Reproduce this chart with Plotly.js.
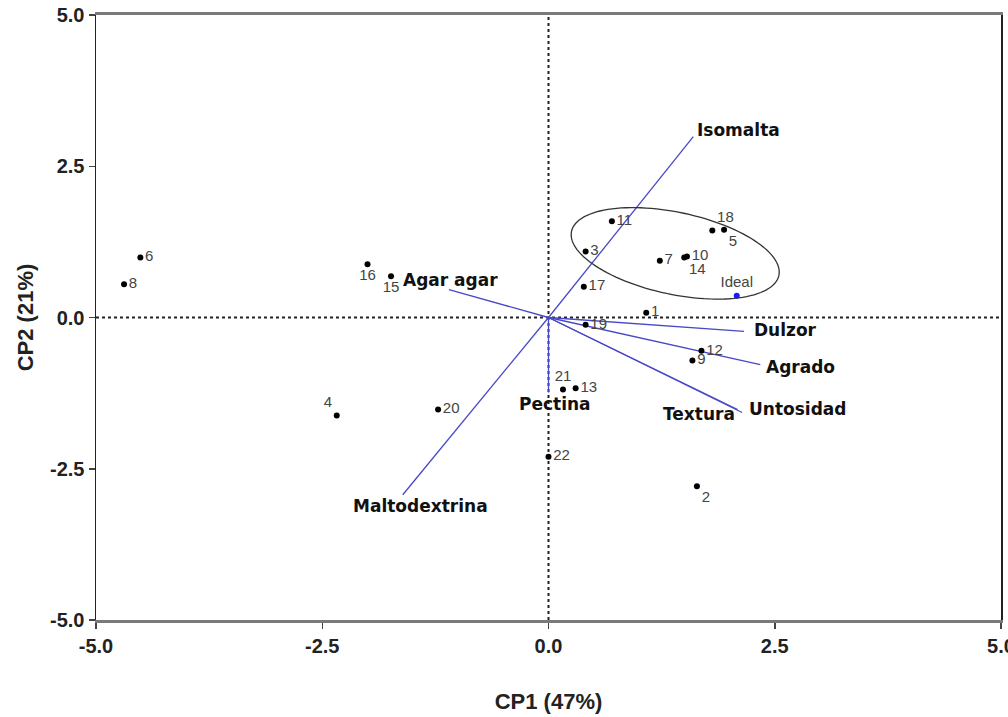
<!DOCTYPE html>
<html>
<head>
<meta charset="utf-8">
<script src="https://cdn.plot.ly/plotly-3.0.1.min.js"></script>
<style>html,body{margin:0;padding:0;background:#fff;overflow:hidden;}#chart{width:1008px;height:717px;}</style>
</head>
<body>
<div id="chart"></div>
<script>
// Sample scores (CP1, CP2)
const sampleLabels = ['1','2','3','4','5','6','7','8','9','10','11','12','13','14','15','16','17','18','19','20','21','22'];
const sampleCP1 = [1.08, 1.64, 0.41, -2.34, 1.94, -4.51, 1.23, -4.69, 1.59, 1.53, 0.70, 1.69, 0.30, 1.50, -1.74, -2.00, 0.39, 1.81, 0.41, -1.22, 0.16, 0.00];
const sampleCP2 = [0.08, -2.79, 1.09, -1.62, 1.45, 0.99, 0.94, 0.55, -0.71, 1.01, 1.59, -0.55, -1.17, 0.99, 0.68, 0.88, 0.51, 1.44, -0.12, -1.52, -1.19, -2.30];
const sampleTextPos = ['middle right','bottom right','middle right','top left','bottom right','middle right','middle right','middle right','middle right','middle right','middle right','middle right','middle right','bottom right','bottom center','bottom center','middle right','top right','middle right','middle right','top center','middle right'];

// Ideal product
const idealLabel = 'Ideal';
const idealCP1 = 2.08;
const idealCP2 = 0.36;

// Variable loadings (vectors)
const varNames = ['Isomalta','Agar agar','Dulzor','Agrado','Untosidad','Textura','Pectina','Maltodextrina'];
const varCP1 = [1.60, -1.10, 2.16, 2.34, 2.14, 2.09, 0.00, -1.61];
const varCP2 = [2.99, 0.46, -0.23, -0.78, -1.57, -1.52, -1.24, -2.93];
const varLabelStyle = [
  {xanchor:'left', xshift:2, yshift:7},
  {xanchor:'center', xshift:2, yshift:10},
  {xanchor:'left', xshift:8, yshift:1},
  {xanchor:'left', xshift:4, yshift:-2},
  {xanchor:'left', xshift:5, yshift:3},
  {xanchor:'right', xshift:-1, yshift:-5},
  {xanchor:'center', xshift:6, yshift:-11},
  {xanchor:'center', xshift:18, yshift:-11}
];

// Axis ticks and titles
const tickVals = [-5, -2.5, 0, 2.5, 5];
const tickText = ['-5.0','-2.5','0.0','2.5','5.0'];
const xTitle = 'CP1 (47%)';
const yTitle = 'CP2 (21%)';

// Grouping ellipse parameters (center in data units, semi-axes in px, tilt in degrees)
const ellipse = {cx: 1.40, cy: 1.06, a: 106, b: 41, tilt: 12};

const W = 1008, H = 717;
const margin = {l: 96, r: 7, t: 15, b: 97};
const pxX = (W - margin.l - margin.r) / 10;
const pxY = (H - margin.t - margin.b) / 10;

function ellipsePath(e) {
  const th = e.tilt * Math.PI / 180;
  let d = '';
  const n = 120;
  for (let i = 0; i <= n; i++) {
    const t = 2 * Math.PI * i / n;
    const u = e.a * Math.cos(t), v = e.b * Math.sin(t);
    const sx = u * Math.cos(th) - v * Math.sin(th);
    const sy = u * Math.sin(th) + v * Math.cos(th);
    const x = e.cx + sx / pxX, y = e.cy - sy / pxY;
    d += (i === 0 ? 'M ' : ' L ') + x.toFixed(4) + ',' + y.toFixed(4);
  }
  return d + ' Z';
}

const vecColor = '#4848c8';
const traces = [];
varNames.forEach((n, i) => {
  traces.push({
    x: [0, varCP1[i]], y: [0, varCP2[i]], mode: 'lines', type: 'scatter',
    line: {color: vecColor, width: 1.3}, hoverinfo: 'skip', showlegend: false
  });
});
traces.push({
  x: sampleCP1, y: sampleCP2, text: sampleLabels, mode: 'markers+text', type: 'scatter',
  marker: {color: '#000', size: 6}, textposition: sampleTextPos,
  textfont: {family: 'Liberation Sans, Arial, sans-serif', size: 15, color: '#444'},
  showlegend: false, cliponaxis: false
});
traces.push({
  x: [idealCP1], y: [idealCP2], text: [idealLabel], mode: 'markers+text', type: 'scatter',
  marker: {color: '#1a1aff', size: 6}, textposition: 'top center',
  textfont: {family: 'Liberation Sans, Arial, sans-serif', size: 15, color: '#444'},
  showlegend: false
});

const annotations = varNames.map((n, i) => Object.assign({
  x: varCP1[i], y: varCP2[i], text: '<b>' + n + '</b>', showarrow: false, yanchor: 'middle',
  font: {family: 'DejaVu Sans, sans-serif', size: 17, color: '#111'}
}, varLabelStyle[i]));

const tickFont = {family: 'Liberation Sans, Arial, sans-serif', size: 20, color: '#222'};
const titleFont = {family: 'Liberation Sans, Arial, sans-serif', size: 22, color: '#222'};

const layout = {
  width: W, height: H, margin: margin,
  paper_bgcolor: '#fff', plot_bgcolor: '#fff',
  xaxis: {
    range: [-5, 5], tickvals: tickVals, ticktext: tickText.map(t => '<b>' + t + '</b>'),
    ticks: 'outside', ticklen: 6, tickcolor: '#444', tickwidth: 1.5,
    showgrid: false, zeroline: false, showline: true, mirror: true,
    linecolor: '#7a7a7a', linewidth: 3, tickfont: tickFont, ticklabeloverflow: 'allow',
    title: {text: '<b>' + xTitle + '</b>', font: titleFont, standoff: 38}
  },
  yaxis: {
    range: [-5, 5], tickvals: tickVals, ticktext: tickText.map(t => '<b>' + t + '</b>'),
    ticks: 'outside', ticklen: 6, tickcolor: '#444', tickwidth: 1.5,
    showgrid: false, zeroline: false, showline: true, mirror: true,
    linecolor: '#222', linewidth: 1.5, tickfont: tickFont, ticklabeloverflow: 'allow',
    title: {text: '<b>' + yTitle + '</b>', font: titleFont, standoff: 10}
  },
  shapes: [
    {type: 'line', x0: 0, x1: 0, y0: -5, y1: 5, line: {color: '#222', width: 2, dash: 'dot'}, layer: 'below'},
    {type: 'line', x0: -5, x1: 5, y0: 0, y1: 0, line: {color: '#222', width: 2, dash: 'dot'}, layer: 'below'},
    {type: 'path', path: ellipsePath(ellipse), line: {color: '#333', width: 1.3}, fillcolor: 'rgba(0,0,0,0)'}
  ],
  annotations: annotations,
  showlegend: false
};

Plotly.newPlot('chart', traces, layout, {displayModeBar: false, staticPlot: true});
</script>
</body>
</html>
